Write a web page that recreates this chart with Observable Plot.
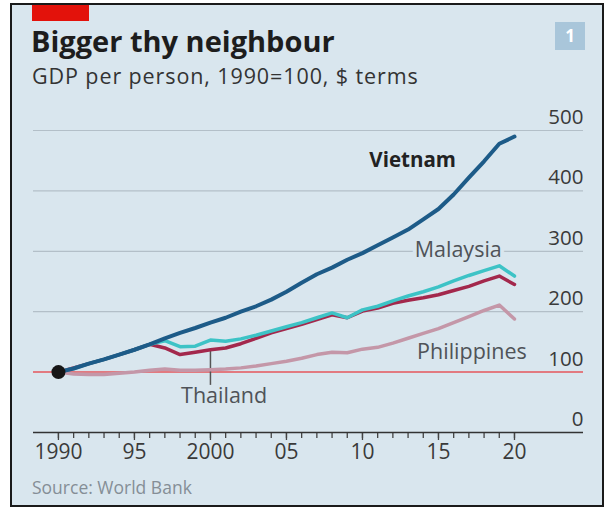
<!DOCTYPE html>
<html>
<head>
<meta charset="utf-8">
<script src="https://cdn.jsdelivr.net/npm/d3@7"></script>
<script src="https://cdn.jsdelivr.net/npm/@observablehq/plot@0.6"></script>
<style>
  html, body { margin: 0; padding: 0; background: #ffffff; width: 611px; height: 512px; overflow: hidden; }
  body { position: relative; font-family: "Open Sans", "Noto Sans", sans-serif; }
  #frame { position: absolute; left: 10px; top: 3px; width: 594px; height: 504px; box-sizing: border-box; border: 2px solid #1a1a1a; background: #d9e6ee; }
  #redtag { position: absolute; left: 32px; top: 5px; width: 57px; height: 16px; background: #e3120b; }
  #title { position: absolute; left: 31px; top: 25px; font-weight: 700; font-size: 29px; line-height: 32px; color: #1d1d1d; white-space: nowrap; }
  #subtitle { position: absolute; left: 32px; top: 63px; font-size: 21.5px; letter-spacing: 0.9px; line-height: 26px; color: #333; white-space: nowrap; }
  #badge { position: absolute; left: 555px; top: 22px; width: 30px; height: 28px; background: #a9c6da; color: #fff; font-weight: 700; font-size: 17px; line-height: 28px; text-align: center; }
  #source { position: absolute; left: 32px; top: 476px; font-size: 17.5px; line-height: 22px; color: #858e96; white-space: nowrap; }
  #chart { position: absolute; left: 0; top: 100px; }
</style>
</head>
<body>
<div id="frame"></div>
<div id="redtag"></div>
<div id="title">Bigger thy neighbour</div>
<div id="subtitle">GDP per person, 1990=100, $ terms</div>
<div id="badge">1</div>
<div id="chart"></div>
<div id="source">Source: World Bank</div>
<script>
const years = [1990,1991,1992,1993,1994,1995,1996,1997,1998,1999,2000,2001,2002,2003,2004,2005,2006,2007,2008,2009,2010,2011,2012,2013,2014,2015,2016,2017,2018,2019,2020];
const vietnam = [100,106,114,121,129,137,146,156,165,173,182,190,200,209,220,233,248,262,273,286,297,310,323,336,353,370,394,422,449,478,490];
const malaysia = [100,106,114,121,129,137,146,152,142,143,153,151,155,161,168,175,182,190,198,190,203,209,218,226,233,241,251,260,268,276,259];
const thailand = [100,107,114,121,129,137,146,140,129,133,137,140,147,156,165,172,179,187,195,190,201,206,214,219,223,228,235,242,251,259,245];
const philippines = [100,97,96,96,98,100,103,105,103,103,104,105,107,110,114,118,123,129,133,132,138,141,148,156,164,172,182,192,202,211,188];

const seriesNames = ["Philippines", "Thailand", "Malaysia", "Vietnam"];
const seriesValues = [philippines, thailand, malaysia, vietnam];
const seriesColors = ["#c497a8", "#a3284c", "#3dc3c6", "#1d5b88"];
const seriesWidths = [3.5, 3.5, 3.5, 4];

const yTicks = [0, 100, 200, 300, 400, 500];
const gridValues = [200, 300, 400, 500];
const baseValue = [100];
const majorYears = [1990, 1995, 2000, 2005, 2010, 2015, 2020];
const xDomain = [1988.36, 2024.54];

const boldLabels = [{name: "Vietnam", year: 2013.3, value: 451}];
const plainLabels = [
  {name: "Malaysia", year: 2016.3, value: 302},
  {name: "Philippines", year: 2017.2, value: 133},
  {name: "Thailand", year: 2000.9, value: 60}
];
const leader = [{year: 2000, from: 137, to: 78}];
const origin = [{year: 1990, value: 100}];

const rows = [];
seriesNames.forEach((name, i) => {
  years.forEach((yr, j) => rows.push({country: name, year: yr, value: seriesValues[i][j]}));
});

const bg = "#d9e6ee";
const lineMarks = seriesNames.map((name, i) =>
  Plot.line(rows.filter(d => d.country === name), {
    x: "year", y: "value", stroke: seriesColors[i], strokeWidth: seriesWidths[i],
    curve: "linear", strokeLinejoin: "round", strokeLinecap: "round"
  })
);

const fmt = d => (d === 1990 || d === 2000) ? String(d) : String(d).slice(2);

const chart = Plot.plot({
  width: 611,
  height: 400,
  marginLeft: 33,
  marginRight: 28,
  marginTop: 30,
  marginBottom: 68,
  style: {background: "transparent", fontFamily: "'Open Sans', 'Noto Sans', sans-serif", fontSize: "18px", color: "#3a3a3a", overflow: "visible"},
  x: {domain: xDomain, label: null},
  y: {domain: [0, 500], label: null},
  marks: [
    Plot.ruleY(gridValues, {stroke: "#b3bfc8", strokeWidth: 1.2}),
    Plot.ruleY(baseValue, {stroke: "#e27a80", strokeWidth: 2}),
    Plot.axisY(yTicks, {anchor: "right", tickSize: 0, tickPadding: 0, textAnchor: "end", dy: -13, dx: 0, fontSize: 20.5, fill: "#3a3a3a", label: null}),
    Plot.axisX(years, {tickSize: 6, stroke: "#444", strokeWidth: 1.3, text: null, label: null}),
    Plot.axisX(majorYears, {tickSize: 8, stroke: "#444", strokeWidth: 1.3, tickPadding: 4, tickFormat: fmt, fontSize: 21, fill: "#3a3a3a", label: null}),
    Plot.ruleY([0], {stroke: "#333", strokeWidth: 1.6}),
    Plot.ruleX(leader, {x: "year", y1: "from", y2: "to", stroke: "#555", strokeWidth: 1.5}),
    ...lineMarks,
    Plot.dot(origin, {x: "year", y: "value", r: 7, fill: "#161616"}),
    Plot.text(plainLabels, {x: "year", y: "value", text: "name", fontSize: 21.5, fontWeight: 400,
      fill: "#4f5358", stroke: bg, strokeWidth: 8, paintOrder: "stroke"}),
    Plot.text(boldLabels, {x: "year", y: "value", text: "name", fontSize: 20.5, fontWeight: 700,
      fill: "#222", stroke: bg, strokeWidth: 8, paintOrder: "stroke"})
  ]
});
document.getElementById("chart").appendChild(chart);
</script>
</body>
</html>
